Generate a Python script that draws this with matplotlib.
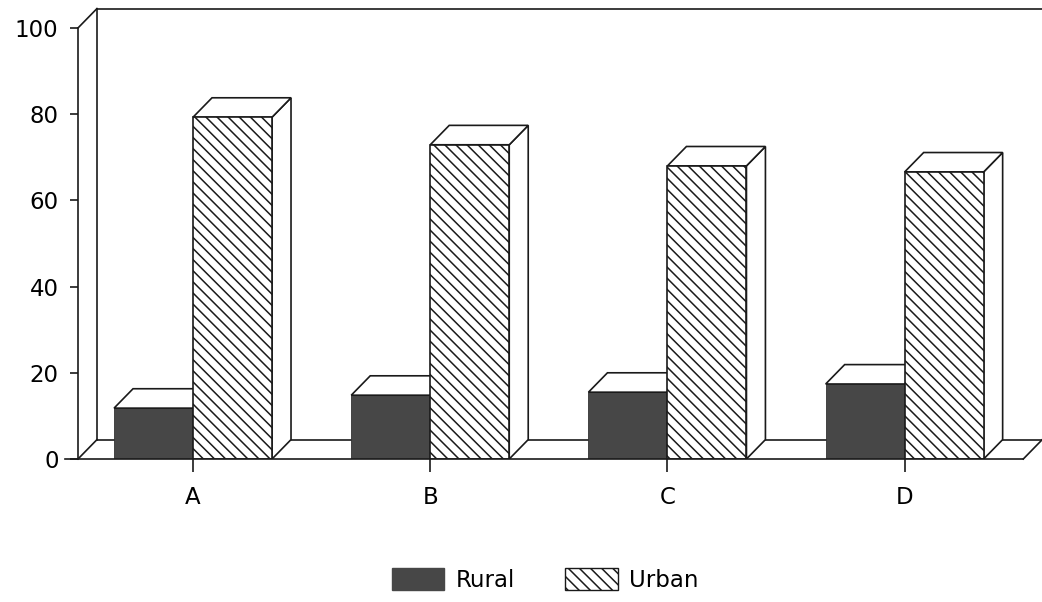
import matplotlib
matplotlib.use('Agg')
import matplotlib.pyplot as plt
from matplotlib.patches import Polygon, Patch

categories = ['A', 'B', 'C', 'D']
rural = [11.8, 14.8, 15.5, 17.4]
urban = [79.3, 72.9, 68.0, 66.6]
y_ticks = [0, 20, 40, 60, 80, 100]

plt.rcParams['font.family'] = ['DejaVu Sans']
plt.rcParams['hatch.linewidth'] = 1.1
plt.rcParams['hatch.color'] = '#111111'

EDGE = '#1a1a1a'
GRAY = '#474747'
LW = 1.2
W = 0.333      # bar width in category units
DX = 0.08      # depth offset, x
DY = 4.5       # depth offset, y
X0 = -0.485    # front left axis
FLOOR_END = 3.5
FS = 16.5


def top_face(left, right, v):
    return [(left, v), (left + DX, v + DY), (right + DX, v + DY), (right, v)]


def side_face(right, v):
    return [(right, 0), (right, v), (right + DX, v + DY), (right + DX, DY)]


def main():
    fig = plt.figure(figsize=(10.42, 6.02), dpi=100)
    ax = fig.add_axes([78 / 1042, 143 / 602, 969 / 1042, 452.6 / 602])
    ax.set_xlim(X0, 3.6)
    ax.set_ylim(0, 105)

    # back wall and floor
    wall = dict(color=EDGE, lw=LW, clip_on=False, zorder=1)
    ax.plot([X0, X0 + DX], [100, 100 + DY], **wall)
    ax.plot([X0, X0 + DX], [0, DY], **wall)
    ax.plot([X0 + DX, X0 + DX], [DY, 100 + DY], **wall)
    ax.plot([X0 + DX, 3.6], [100 + DY, 100 + DY], **wall)
    ax.plot([X0 + DX, FLOOR_END + DX], [DY, DY], **wall)
    ax.plot([FLOOR_END, FLOOR_END + DX], [0, DY], **wall)
    ax.plot([-0.54, FLOOR_END], [0, 0], color=EDGE, lw=LW, clip_on=False, zorder=5)

    xs = list(range(len(categories)))
    for i, x in enumerate(xs):
        l, r = x - W, x
        ax.bar(x - W / 2, rural[i], width=W, color=GRAY, edgecolor='#333333',
               lw=0.6, zorder=2)
        ax.add_patch(Polygon(top_face(l, r, rural[i]), closed=True, facecolor='white',
                             edgecolor=EDGE, lw=LW, zorder=2))
        l, r = x, x + W
        ax.add_patch(Polygon(side_face(r, urban[i]), closed=True, facecolor='white',
                             edgecolor=EDGE, lw=LW, zorder=3))
        ax.add_patch(Polygon(top_face(l, r, urban[i]), closed=True, facecolor='white',
                             edgecolor=EDGE, lw=LW, zorder=3))
        ax.bar(x + W / 2, urban[i], width=W, color='white', edgecolor=EDGE,
               hatch='\\\\\\', lw=LW, zorder=3)

    for s in ['top', 'right', 'bottom']:
        ax.spines[s].set_visible(False)
    ax.spines['left'].set_bounds(0, 100)
    ax.spines['left'].set_linewidth(LW)
    ax.spines['left'].set_color(EDGE)

    ax.set_yticks(y_ticks)
    ax.set_xticks(xs)
    ax.set_xticklabels(categories)
    ax.tick_params(axis='y', length=6, width=LW, pad=8, labelsize=FS, color=EDGE)
    ax.tick_params(axis='x', length=9.5, width=LW, pad=10, labelsize=FS, color=EDGE)

    handles = [Patch(facecolor=GRAY, edgecolor=GRAY, label='Rural'),
               Patch(facecolor='white', edgecolor=EDGE, hatch='\\\\\\', label='Urban')]
    fig.legend(handles=handles, loc='center', bbox_to_anchor=(0.523, 0.037), ncol=2,
               frameon=False, fontsize=FS, handlelength=2.3, handleheight=1.15,
               handletextpad=0.48, columnspacing=2.2)

    fig.savefig('out.png', dpi=100)


if __name__ == "__main__":
    main()
